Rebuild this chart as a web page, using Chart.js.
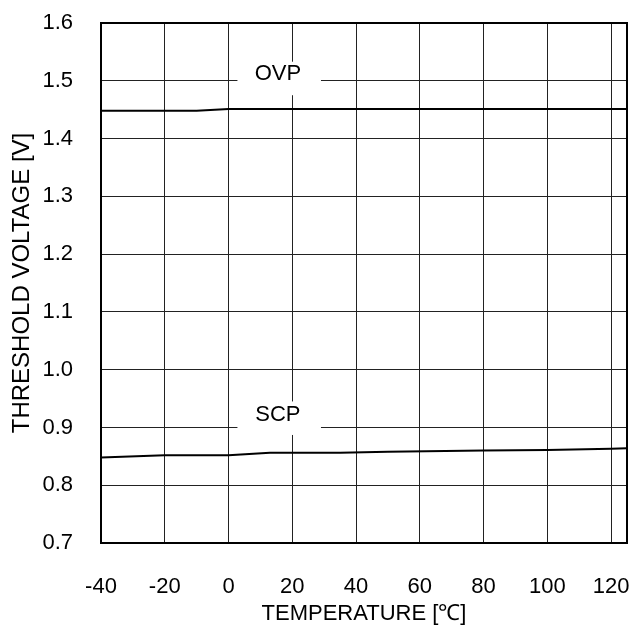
<!DOCTYPE html>
<html>
<head>
<meta charset="utf-8">
<script src="https://cdn.jsdelivr.net/npm/chart.js@4/dist/chart.umd.min.js"></script>
<style>
  html, body { margin: 0; padding: 0; background: #fff; }
  #wrap { width: 637px; height: 629px; }
</style>
</head>
<body>
<div id="wrap"><canvas id="thresholdChart"></canvas></div>
<script>
// Datos
const tempTicks = [-40, -20, 0, 20, 40, 60, 80, 100, 120];
const voltTicks = [0.7, 0.8, 0.9, 1.0, 1.1, 1.2, 1.3, 1.4, 1.5, 1.6];

const ovpTemp = [-40, -10, 0, 125];
const ovpVolt = [1.448, 1.448, 1.451, 1.451];

const scpTemp = [-40, -20, 0, 13, 35, 50, 80, 100, 120, 125];
const scpVolt = [0.848, 0.852, 0.852, 0.856, 0.856, 0.858, 0.860, 0.861, 0.863, 0.864];

// Etiquetas con caja blanca: [texto, x, y, caja x0, x1, y0, y1]
const curveLabels = [
  ['OVP', 15.5, 1.511, 2.8, 29, 1.533, 1.475],
  ['SCP', 15.5, 0.922, 2.8, 29, 0.945, 0.887]
];

const fontName = '"Liberation Sans", Arial, sans-serif';

function toPoints(xs, ys) {
  return xs.map((x, i) => ({ x: x, y: ys[i] }));
}

// Plugin: marco del área y etiquetas de curva
const framePlugin = {
  id: 'frameAndLabels',
  beforeDatasetsDraw(chart) {
    const { ctx, scales: { x, y } } = chart;
    ctx.save();
    curveLabels.forEach(l => {
      const x0 = x.getPixelForValue(l[3]);
      const x1 = x.getPixelForValue(l[4]);
      const y0 = y.getPixelForValue(l[5]);
      const y1 = y.getPixelForValue(l[6]);
      ctx.fillStyle = '#fff';
      ctx.fillRect(x0, y0, x1 - x0, y1 - y0);
      ctx.fillStyle = '#000';
      ctx.font = '22px ' + fontName;
      ctx.textAlign = 'center';
      ctx.textBaseline = 'middle';
      ctx.fillText(l[0], x.getPixelForValue(l[1]), y.getPixelForValue(l[2]));
    });
    ctx.restore();
  },
  afterDraw(chart) {
    const { ctx, chartArea: a } = chart;
    ctx.save();
    ctx.strokeStyle = '#000';
    ctx.lineWidth = 2;
    ctx.strokeRect(a.left, a.top, a.right - a.left, a.bottom - a.top);
    ctx.restore();
  }
};

const ctx = document.getElementById('thresholdChart').getContext('2d');
new Chart(ctx, {
  type: 'scatter',
  data: {
    datasets: [
      {
        label: 'OVP',
        data: toPoints(ovpTemp, ovpVolt),
        showLine: true,
        borderColor: '#000',
        borderWidth: 2,
        pointRadius: 0,
        tension: 0
      },
      {
        label: 'SCP',
        data: toPoints(scpTemp, scpVolt),
        showLine: true,
        borderColor: '#000',
        borderWidth: 2,
        pointRadius: 0,
        tension: 0
      }
    ]
  },
  options: {
    responsive: true,
    maintainAspectRatio: false,
    animation: false,
    layout: { padding: { top: 23, right: 10, left: 0, bottom: 0 } },
    plugins: {
      legend: { display: false },
      tooltip: { enabled: false }
    },
    scales: {
      x: {
        type: 'linear',
        min: -40,
        max: 125,
        afterBuildTicks: s => { s.ticks = tempTicks.map(v => ({ value: v })); },
        afterFit: s => { s.height = 86; s.paddingLeft = 0; s.paddingRight = 0; },
        grid: { color: '#222', lineWidth: 1, drawTicks: false },
        border: { display: false },
        ticks: {
          color: '#000',
          padding: 31,
          maxRotation: 0,
          font: { family: fontName, size: 22 }
        },
        title: {
          display: true,
          text: 'TEMPERATURE [℃]',
          color: '#000',
          font: { family: fontName, size: 22 },
          padding: { top: 0, bottom: 2 }
        }
      },
      y: {
        type: 'linear',
        min: 0.7,
        max: 1.6,
        afterBuildTicks: s => { s.ticks = voltTicks.map(v => ({ value: v })); },
        afterFit: s => { s.width = 101; s.paddingTop = 0; s.paddingBottom = 0; },
        grid: { color: '#222', lineWidth: 1, drawTicks: false },
        border: { display: false },
        ticks: {
          color: '#000',
          padding: 28,
          font: { family: fontName, size: 22 },
          callback: v => v.toFixed(1)
        },
        title: {
          display: true,
          text: 'THRESHOLD VOLTAGE [V]',
          color: '#000',
          font: { family: fontName, size: 24 },
          padding: { top: 8, bottom: 0 }
        }
      }
    }
  },
  plugins: [framePlugin]
});
</script>
</body>
</html>
